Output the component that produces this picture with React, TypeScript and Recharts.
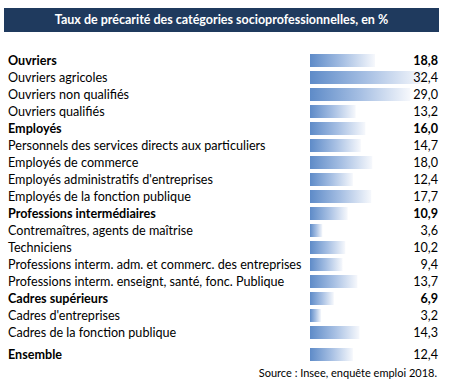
import React from 'react';
import { BarChart, Bar, XAxis, YAxis, LabelList } from 'recharts';

// catégories socioprofessionnelles (groupes en gras)
const categories = [
  'Ouvriers',
  'Ouvriers agricoles',
  'Ouvriers non qualifiés',
  'Ouvriers qualifiés',
  'Employés',
  'Personnels des services directs aux particuliers',
  'Employés de commerce',
  'Employés administratifs d\'entreprises',
  'Employés de la fonction publique',
  'Professions intermédiaires',
  'Contremaîtres, agents de maîtrise',
  'Techniciens',
  'Professions interm. adm. et commerc. des entreprises',
  'Professions interm. enseignt, santé, fonc. Publique',
  'Cadres supérieurs',
  'Cadres d\'entreprises',
  'Cadres de la fonction publique',
];
const values = [18.8, 32.4, 29.0, 13.2, 16.0, 14.7, 18.0, 12.4, 17.7, 10.9, 3.6, 10.2, 9.4, 13.7, 6.9, 3.2, 14.3];
const groups = ['Ouvriers', 'Employés', 'Professions intermédiaires', 'Cadres supérieurs'];

const totalLabel = ['Ensemble'];
const totalValue = [12.4];

const maxValue = 32.4;

const rows = categories.map((c, i) => ({ name: c, value: values[i] }));
const totalRows = totalLabel.map((c, i) => ({ name: c, value: totalValue[i] }));

const font = 'Lato, "Open Sans", sans-serif';
const fmt = (v: number) => v.toFixed(1).replace('.', ',');

const LeftTick = ({ y, payload }: any) => (
  <text
    x={8}
    y={y}
    dy="0.35em"
    textAnchor="start"
    fontFamily={font}
    fontSize={12.6}
    fontWeight={groups.includes(payload.value) || totalLabel.includes(payload.value) ? 700 : 400}
    fill="#000"
  >
    {payload.value}
  </text>
);

const ValueLabel = (props: any) => {
  const { y, height, value, index, data } = props;
  const bold = groups.includes(data[index].name);
  return (
    <text
      x={438}
      y={y + height / 2}
      dy="0.35em"
      textAnchor="end"
      fontFamily={font}
      fontSize={12.6}
      fontWeight={bold ? 700 : 400}
      fill="#000"
    >
      {fmt(value)}
    </text>
  );
};

function RowChart({ data, height }: { data: any[]; height: number }) {
  return (
    <BarChart
      width={449}
      height={height}
      data={data}
      layout="vertical"
      margin={{ top: 0, right: 27, bottom: 0, left: 0 }}
      barSize={13}
    >
      <defs>
        <linearGradient id="dataBar" x1="0" y1="0" x2="1" y2="0">
          <stop offset="0%" stopColor="#5e8bc8" />
          <stop offset="50%" stopColor="#a6bfe3" />
          <stop offset="100%" stopColor="#f6f8fc" />
        </linearGradient>
      </defs>
      <XAxis type="number" domain={[0, maxValue]} hide />
      <YAxis
        type="category"
        dataKey="name"
        width={310}
        axisLine={false}
        tickLine={false}
        tick={<LeftTick />}
        interval={0}
      />
      <Bar dataKey="value" fill="url(#dataBar)" isAnimationActive={false}>
        <LabelList dataKey="value" content={(p: any) => <ValueLabel {...p} data={data} />} />
      </Bar>
    </BarChart>
  );
}

export default function App() {
  return (
    <div style={{ position: 'fixed', left: 0, top: 0, width: 449, height: 384, background: '#fff', fontFamily: font }}>
      <div
        style={{
          position: 'absolute',
          left: 4,
          top: 8,
          width: 435,
          height: 24,
          background: '#1f3a5e',
          color: '#fff',
          fontWeight: 700,
          fontSize: 12.5,
          lineHeight: '24px',
          textAlign: 'center',
        }}
      >
        Taux de précarité des catégories socioprofessionnelles, en %
      </div>
      <div style={{ position: 'absolute', left: 0, top: 52 }}>
        <RowChart data={rows} height={17 * 17} />
      </div>
      <div style={{ position: 'absolute', left: 0, top: 346 }}>
        <RowChart data={totalRows} height={17} />
      </div>
      <div
        style={{
          position: 'absolute',
          right: 12,
          top: 366,
          fontSize: 11,
          color: '#000',
        }}
      >
        Source : Insee, enquête emploi 2018.
      </div>
    </div>
  );
}
